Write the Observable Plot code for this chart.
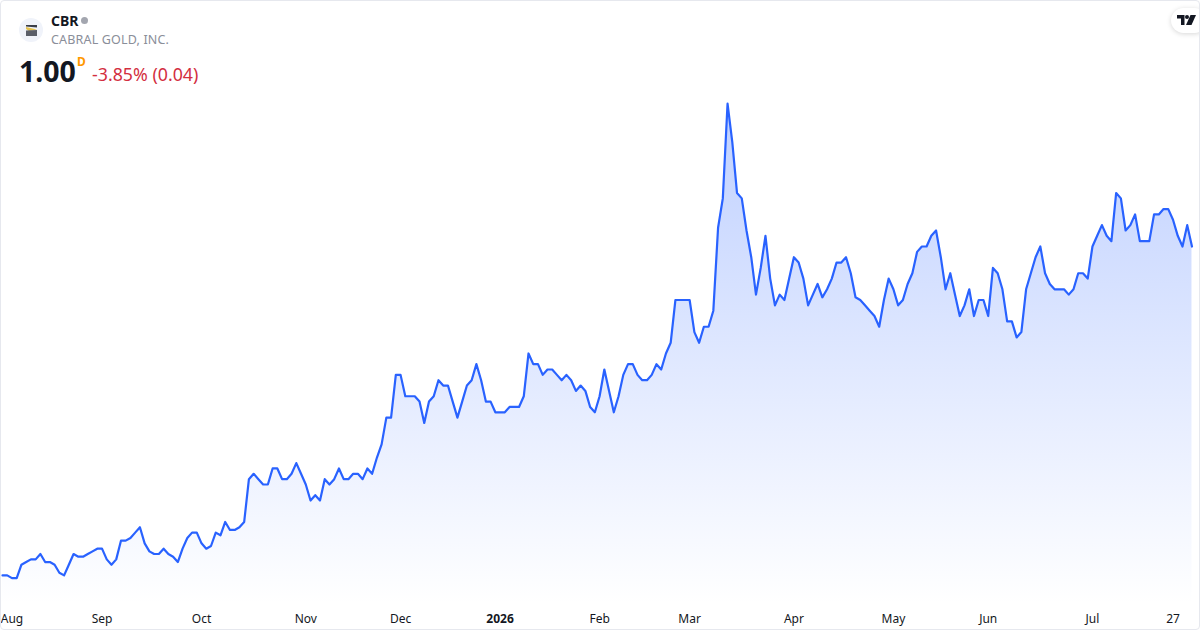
<!DOCTYPE html>
<html><head><meta charset="utf-8">
<script src="https://cdn.jsdelivr.net/npm/d3@7"></script>
<script src="https://cdn.jsdelivr.net/npm/@observablehq/plot@0.6"></script>
<style>
html,body{margin:0;padding:0;background:#fff;width:1200px;height:630px;overflow:hidden;font-family:"Noto Sans","Open Sans",sans-serif}
#wrap{position:absolute;left:0;top:0;width:1200px;height:630px}
#frame{position:absolute;left:0;top:0;width:1198px;height:628px;border:1px solid #e6e8ee;border-radius:4px;pointer-events:none}
#chart svg{display:block;position:absolute;left:0;top:0}
.t{position:absolute;white-space:nowrap;line-height:1}
#sym{left:51px;top:14px;font-size:14px;font-weight:700;color:#131722}
#dot{position:absolute;left:81px;top:17px;width:7px;height:7px;border-radius:50%;background:#a3a6af}
#name{left:51px;top:34px;font-size:12.5px;color:#8a8e99;letter-spacing:.17px}
#price{left:19px;top:57px;font-size:28.5px;font-weight:700;color:#131722}
#iv{left:77px;top:56px;font-size:12px;font-weight:700;color:#ff9800}
#chg{left:92px;top:66px;font-size:17.8px;color:#d32f3f}
#logo{position:absolute;left:19px;top:18px}
#tv{position:absolute;left:1171px;top:8px;width:36px;height:25px;background:#fff;border-radius:13px;box-shadow:0 1px 5px rgba(0,0,0,.16)}
#tv svg{position:absolute;left:6px;top:7px}
</style></head><body>
<div id="wrap">
<div id="chart"></div>
<svg id="logo" width="24" height="24" viewBox="0 0 24 24"><circle cx="12" cy="12" r="12" fill="#f0f3fa"/><path d="M7 7h11v2.5L7 8.5z" fill="#3a3e48"/><path d="M7 9l11 2.5-8 1.5L7 11z" fill="#e3c04e"/><path d="M7 12.5l11-0.5v6H7z" fill="#5a5e68"/></svg>
<div class="t" id="sym">CBR</div><div id="dot"></div>
<div class="t" id="name">CABRAL GOLD, INC.</div>
<div class="t" id="price">1.00</div>
<div class="t" id="iv">D</div>
<div class="t" id="chg">-3.85% (0.04)</div>
<div id="tv"><svg width="19" height="11" viewBox="0 0 19 11"><path d="M0 0h7.5v10H4V3.5H0z" fill="#131722"/><circle cx="10" cy="2" r="2" fill="#131722"/><path d="M13.5 0H19l-4.5 10H9z" fill="#131722"/></svg></div>
<div id="frame"></div>
</div>
<script>
const prices = [
.385,.385,.38,.38,.405,.41,.415,.415,.425,.41,.41,.405,.39,.385,.405,.425,.42,.42,.425,.43,
.435,.435,.415,.405,.415,.45,.45,.455,.465,.475,.445,.43,.425,.425,.435,.425,.42,.41,.435,.455,
.465,.465,.445,.435,.44,.465,.46,.485,.47,.47,.475,.485,.565,.575,.565,.555,.555,.585,.585,.565,
.565,.575,.595,.575,.555,.525,.535,.525,.565,.555,.565,.585,.565,.565,.575,.575,.565,.585,.575,.605,
.63,.68,.68,.76,.76,.72,.72,.72,.71,.67,.71,.72,.75,.74,.74,.71,.68,.71,.74,.75,
.78,.75,.71,.71,.69,.69,.69,.70,.70,.70,.72,.80,.78,.78,.76,.77,.77,.76,.75,.76,
.75,.73,.74,.73,.70,.69,.72,.77,.73,.69,.72,.76,.78,.78,.76,.75,.75,.76,.78,.77,
.80,.82,.90,.90,.90,.90,.84,.82,.85,.85,.88,1.035,1.09,1.267,1.195,1.10,1.09,1.03,.98,.91,
.96,1.02,.94,.89,.91,.90,.94,.98,.97,.94,.89,.91,.93,.905,.92,.94,.97,.97,.98,.95,
.905,.90,.89,.88,.87,.85,.90,.94,.92,.89,.90,.93,.95,.99,1.00,1.00,1.02,1.03,.98,.92,
.95,.91,.87,.89,.92,.87,.90,.90,.87,.96,.95,.92,.86,.86,.83,.84,.92,.95,.98,1.00,
.95,.93,.92,.92,.92,.91,.92,.95,.95,.94,1.00,1.02,1.04,1.02,1.01,1.10,1.09,1.03,1.04,1.06,
1.01,1.01,1.01,1.06,1.06,1.07,1.07,1.05,1.02,1.00,1.04,1.00];
const tickIndex = [2,21,42,64,84,126,145,167,188,208,230,247];
const tickLabels = ["Aug","Sep","Oct","Nov","Dec","Feb","Mar","Apr","May","Jun","Jul","27"];
const yearTickIndex = [105];
const yearLabels = ["2026"];
const baseline = 0.33;
const lineColor = "#2962ff";

const rows = prices.map((p,i)=>({i,p}));
const labelOf = new Map(tickIndex.map((t,k)=>[t,tickLabels[k]]));
const yearOf = new Map(yearTickIndex.map((t,k)=>[t,yearLabels[k]]));
const fnt = '"Noto Sans","Open Sans",sans-serif';
const chart = Plot.plot({
  width:1200,height:630,margin:0,
  style:{background:"transparent",fontFamily:fnt,overflow:"visible"},
  x:{type:"linear",domain:[-0.42,252.8],range:[0,1200],axis:null},
  y:{type:"linear",domain:[1.46,0.282],range:[0,630],axis:null},
  marks:[
    ()=>{const s=d3.create("svg:defs");
      const g=s.append("linearGradient").attr("id","areaFill").attr("x1",0).attr("y1",0).attr("x2",0).attr("y2",1);
      g.append("stop").attr("offset",0).attr("stop-color",lineColor).attr("stop-opacity",.3);
      g.append("stop").attr("offset",1).attr("stop-color",lineColor).attr("stop-opacity",0);
      return s.node();},
    Plot.areaY(rows,{x:"i",y1:()=>baseline,y2:"p",fill:"url(#areaFill)"}),
    Plot.lineY(rows,{x:"i",y:"p",stroke:lineColor,strokeWidth:2.2,strokeLinejoin:"round"}),
    Plot.axisX(tickIndex,{anchor:"bottom",tickSize:0,tickPadding:0,dy:-16,label:null,fontSize:12,fill:"#131722",tickFormat:d=>labelOf.get(d)}),
    Plot.axisX(yearTickIndex,{anchor:"bottom",tickSize:0,tickPadding:0,dy:-16,label:null,fontSize:12,fontWeight:700,fill:"#131722",tickFormat:d=>yearOf.get(d)})
  ]
});
document.getElementById("chart").appendChild(chart);
</script>
</body></html>
